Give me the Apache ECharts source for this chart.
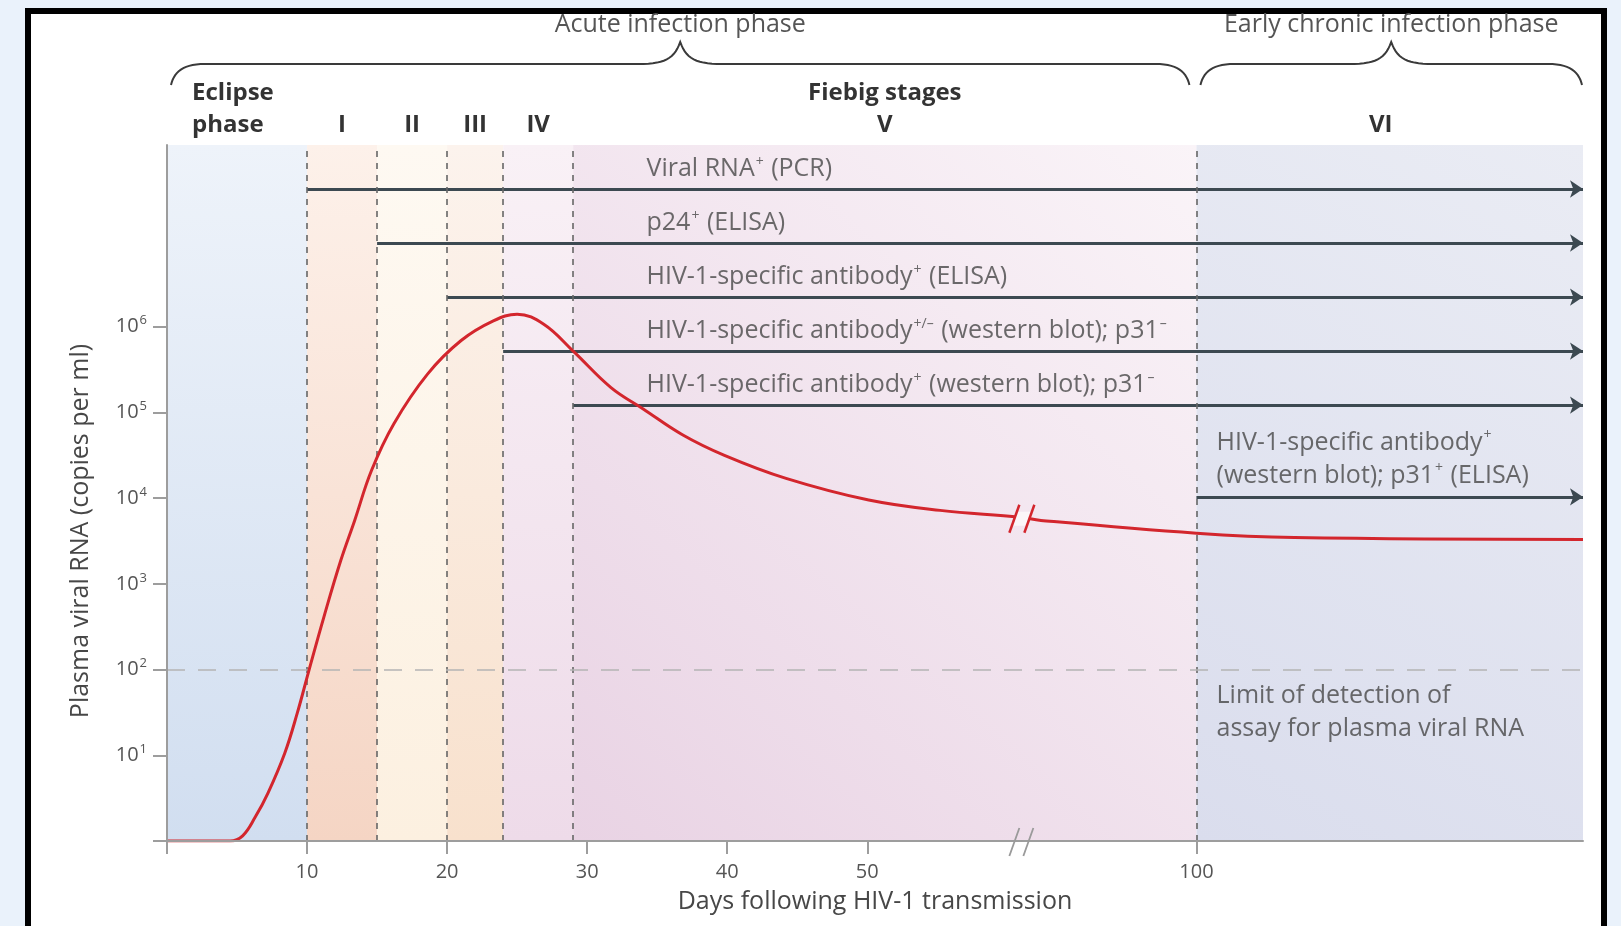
<!DOCTYPE html>
<html>
<head>
<meta charset="utf-8">
<title>HIV-1 viral load and Fiebig stages</title>
<script src="https://cdn.jsdelivr.net/npm/echarts@6/dist/echarts.min.js"></script>
<style>
  html, body { margin: 0; padding: 0; width: 1621px; height: 926px; overflow: hidden; background: #eaf2fb; }
  #frame { position: absolute; left: 25px; top: 8px; width: 1570px; height: 960px;
           border: 6px solid #000; border-bottom: none; background: #fff; }
  #chart { position: absolute; left: 0; top: 0; width: 1621px; height: 926px; }
</style>
</head>
<body>
<div id="frame"></div>
<div id="chart"></div>
<script>
// ---------- data ----------
// Plasma viral RNA over time (days after transmission, copies per ml)
const curveDays   = [0, 4.5, 5.4, 6.3, 7.2, 8.4, 9.3, 10.15, 11.2, 12.4, 13.4, 14.6, 16.2, 18.6, 21, 23.3, 25, 26.9, 29, 31.7, 34, 36.8, 39.8, 44.2, 50.1, 55.2, 60.9, 88.9, 100, 107, 127.6];
const curveCopies = [1, 1, 1.15, 1.9, 3.6, 10.5, 31, 100, 410, 1860, 5500, 21000, 74000, 280000, 690000, 1170000, 1400000, 1070000, 520000, 195000, 110000, 55000, 31600, 17000, 9500, 7200, 6000, 5500, 3900, 3470, 3300];

// Stage boundaries (days) and their names
const stageEdges = [0, 10, 15, 20, 24, 29, 100];
const stageNames = ['Eclipse\nphase', 'I', 'II', 'III', 'IV', 'Fiebig stages\nV', 'VI'];

// Assays and the day from which each one becomes positive
const assayNames = [
  'Viral RNA⁺ (PCR)',
  'p24⁺ (ELISA)',
  'HIV-1-specific antibody⁺ (ELISA)',
  'HIV-1-specific antibody⁺/⁻ (western blot); p31⁻',
  'HIV-1-specific antibody⁺ (western blot); p31⁻',
  'HIV-1-specific antibody⁺\n(western blot); p31⁺ (ELISA)'
];
const assayStartDays = [10, 15, 20, 24, 29, 100];

// Limit of detection of the plasma RNA assay (copies per ml)
const detectionLimit = 100;
const detectionText = 'Limit of detection of\nassay for plasma viral RNA';

// Axis ticks and labels
const xTickLabels = [10, 20, 30, 40, 50, 100];
const xTickMarks = [0, 10, 20, 30, 40, 50, 100];
const yTickExponents = [1, 2, 3, 4, 5, 6];
const yTickMarkExponents = [0, 1, 2, 3, 4, 5, 6];

const phaseTitles = ['Acute infection phase', 'Early chronic infection phase'];

// ---------- layout ----------
const X_MAX = 127.6;
const X_BREAK = { start: 61, end: 87.5 };
const Y_MAX = Math.pow(10, 8.12);
const ROW_MIN = 0.185, ROW_MAX = 13.07;            // hidden row axis for the assay arrows
const arrowRows = [1, 2, 3, 4, 5, 6.7];
const assayLabelDay = 34.2;
const lateLabelDay = 101.4;

const FONT = '"Open Sans", "DejaVu Sans", sans-serif';
const TEXT_COLOR = '#474747';
const AXIS_COLOR = '#9d9d9d';
const LABEL_SIZE = 25;

function supText(s) {
  return s.replace(/[⁺⁻](\/[⁺⁻])?/g, m => '{sup|' + m.replace(/⁺/g, '+').replace(/⁻/g, '–') + '}');
}
const supStyle = { fontFamily: FONT, fontSize: 14, color: TEXT_COLOR, padding: [0, 1, 14, 1] };

const lg = (stops) => new echarts.graphic.LinearGradient(stops[0], stops[1], stops[2], stops[3],
  [{ offset: 0, color: stops[4] }, { offset: 1, color: stops[5] }]);
const bandFills = [
  lg([0, 0, 0, 1, '#eef3fa', '#d1def0']),
  lg([0, 0, 0, 1, '#fdf1ea', '#f5d5c4']),
  lg([0, 0, 0, 1, '#fef9f2', '#fcf0e0']),
  lg([0, 0, 0, 1, '#fcf3ed', '#f8e1cd']),
  lg([0, 0, 0, 1, '#f9f1f6', '#eedbe9']),
  lg([0, 1, 1, 0, '#e9d3e4', '#faf4f8']),
  lg([0, 1, 1, 0, '#dadded', '#eaecf4'])
];

const bandData = stageNames.map((name, i) => {
  const from = stageEdges[i];
  const to = i + 1 < stageEdges.length ? stageEdges[i + 1] : X_MAX;
  const first = { xAxis: from, yAxis: 1, name: name, itemStyle: { color: bandFills[i] } };
  if (i === 0) first.label = { align: 'left', offset: [-45, 0] };
  if (i === 6) first.label = { offset: [-9, 0] };
  return [first, { xAxis: to, yAxis: Y_MAX }];
});

const chart = echarts.init(document.getElementById('chart'), null, { renderer: 'canvas', width: 1621, height: 926 });

const option = {
  animation: false,
  backgroundColor: 'transparent',
  textStyle: { fontFamily: FONT },
  grid: { left: 167, top: 145, right: 38, bottom: 85 },
  xAxis: {
    type: 'value', min: 0, max: X_MAX, z: 10,
    breaks: [{ start: X_BREAK.start, end: X_BREAK.end, gap: 0 }],
    breakArea: { show: false, expandOnClick: false },
    axisLine: { show: true, onZero: false, lineStyle: { color: AXIS_COLOR, width: 2 } },
    axisTick: { show: true, length: 13, customValues: xTickMarks, lineStyle: { color: AXIS_COLOR, width: 2 } },
    axisLabel: { customValues: xTickLabels, margin: 21, color: '#555', fontSize: 20, fontFamily: FONT },
    splitLine: { show: false },
    name: 'Days following HIV-1 transmission', nameLocation: 'middle', nameGap: 48,
    nameTextStyle: { fontSize: 25, color: TEXT_COLOR, fontFamily: FONT }
  },
  yAxis: [{
    type: 'log', logBase: 10, min: 1, max: Y_MAX, z: 10,
    axisLine: { show: true, onZero: false, lineStyle: { color: AXIS_COLOR, width: 2 } },
    axisTick: { show: true, length: 14, customValues: yTickMarkExponents.map(e => Math.pow(10, e)),
                lineStyle: { color: AXIS_COLOR, width: 2 } },
    axisLabel: {
      customValues: yTickExponents.map(e => Math.pow(10, e)), margin: 20, color: '#555',
      fontSize: 20, fontFamily: FONT,
      formatter: v => '10{sup|' + Math.round(Math.log10(v)) + '}',
      rich: { sup: { fontFamily: FONT, fontSize: 13, color: '#555', padding: [0, 0, 12, 1] } }
    },
    splitLine: { show: false },
    name: 'Plasma viral RNA (copies per ml)', nameLocation: 'middle', nameGap: 74, nameRotate: 90,
    nameTextStyle: { fontSize: 25, color: TEXT_COLOR, fontFamily: FONT, padding: [0, 76, 0, 0] }
  }, {
    type: 'value', min: ROW_MIN, max: ROW_MAX, inverse: true, show: false
  }],
  series: [
    {
      // stage bands, stage boundaries and detection limit
      name: 'stages', type: 'line', data: [], xAxisIndex: 0, yAxisIndex: 0, z: 1, silent: true,
      markArea: {
        silent: true,
        label: { show: true, position: 'top', distance: 4, fontSize: 24, fontWeight: 'bold',
                 color: '#333', lineHeight: 32, fontFamily: FONT },
        data: bandData
      },
      markLine: {
        silent: true, symbol: 'none',
        label: { show: false },
        lineStyle: { color: '#666', type: [6, 6], width: 1.6 },
        data: stageEdges.slice(1).map(d => ({ xAxis: d }))
          .concat([{ yAxis: detectionLimit, lineStyle: { color: '#b4b4b4', type: [18, 13], width: 1.5 } }])
      }
    },
    {
      name: 'assays', type: 'lines', coordinateSystem: 'cartesian2d', xAxisIndex: 0, yAxisIndex: 1,
      z: 4, silent: true, polyline: false,
      symbol: ['none', 'arrow'], symbolSize: [0, 13],
      lineStyle: { color: '#3c4951', width: 3, opacity: 1, curveness: 0 },
      data: assayStartDays.map((d, i) => ({ coords: [[d, arrowRows[i]], [X_MAX, arrowRows[i]]] }))
    },
    {
      name: 'assay labels', type: 'scatter', xAxisIndex: 0, yAxisIndex: 1, z: 5, silent: true,
      symbolSize: 1, itemStyle: { color: 'rgba(0,0,0,0)' },
      label: { show: true, position: 'right', distance: 0, fontSize: LABEL_SIZE, color: TEXT_COLOR, fontFamily: FONT,
               lineHeight: 33, formatter: p => supText(p.name), rich: { sup: supStyle } },
      data: assayNames.map((n, i) => ({
        name: n,
        value: [i < 5 ? assayLabelDay : lateLabelDay, arrowRows[i]],
        label: { offset: [0, i < 5 ? -20 : -38] }
      }))
    },
    {
      name: 'detection label', type: 'scatter', xAxisIndex: 0, yAxisIndex: 0, z: 5, silent: true,
      symbolSize: 1, itemStyle: { color: 'rgba(0,0,0,0)' },
      label: { show: true, position: 'right', distance: 0, fontSize: LABEL_SIZE, color: TEXT_COLOR, fontFamily: FONT,
               lineHeight: 33, offset: [0, 43], formatter: p => p.name },
      data: [{ name: detectionText, value: [lateLabelDay, detectionLimit] }]
    },
    {
      name: 'Plasma viral RNA', type: 'line', xAxisIndex: 0, yAxisIndex: 0, z: 6, silent: true,
      smooth: 0.4, showSymbol: false, symbol: 'none',
      lineStyle: { color: '#d3262d', width: 3 },
      data: curveDays.map((d, i) => [d, curveCopies[i]])
    }
  ]
};

chart.setOption(option);

// ---------- phase braces, titles and axis-break marks ----------
function cubic(p0, p1, p2, p3, n) {
  const pts = [];
  for (let i = 1; i <= n; i++) {
    const t = i / n, u = 1 - t;
    pts.push([
      u * u * u * p0[0] + 3 * u * u * t * p1[0] + 3 * u * t * t * p2[0] + t * t * t * p3[0],
      u * u * u * p0[1] + 3 * u * u * t * p1[1] + 3 * u * t * t * p2[1] + t * t * t * p3[1]
    ]);
  }
  return pts;
}
function bracePoints(x1, x2, yEnd, yLine, yTip) {
  const xm = (x1 + x2) / 2;
  let pts = [[x1, yEnd]];
  pts = pts.concat(cubic([x1, yEnd], [x1 + 3, yLine + 8], [x1 + 12, yLine], [x1 + 34, yLine], 14));
  pts.push([xm - 42, yLine]);
  pts = pts.concat(cubic([xm - 42, yLine], [xm - 16, yLine], [xm - 6, yLine - 5], [xm, yTip], 14));
  pts = pts.concat(cubic([xm, yTip], [xm + 6, yLine - 5], [xm + 16, yLine], [xm + 42, yLine], 14));
  pts.push([x2 - 34, yLine]);
  pts = pts.concat(cubic([x2 - 34, yLine], [x2 - 12, yLine], [x2 - 3, yLine + 8], [x2, yEnd], 14));
  return pts;
}

function drawOverlay() {
  const xp = d => chart.convertToPixel({ xAxisIndex: 0 }, d);
  const yp = v => chart.convertToPixel({ yAxisIndex: 0 }, v);
  const els = [];

  const spans = [[xp(0) + 4, xp(100) - 7], [xp(100) + 4, xp(X_MAX) - 1]];
  spans.forEach((s, i) => {
    els.push({ type: 'polyline', z: 100, silent: true,
      shape: { points: bracePoints(s[0], s[1], 85, 64, 42) },
      style: { stroke: '#3a3a3a', lineWidth: 2, fill: null } });
    els.push({ type: 'text', z: 100, silent: true, x: (s[0] + s[1]) / 2, y: 25,
      style: { text: phaseTitles[i], fontSize: 25, fontFamily: FONT, fill: '#555',
               align: 'center', verticalAlign: 'middle' } });
  });

  // break marks on the curve
  const bx = xp(X_BREAK.start);
  const iA = curveDays.findIndex(d => d > X_BREAK.start) - 1;
  const by = (yp(curveCopies[iA]) + yp(curveCopies[iA + 1])) / 2;
  const c1 = bx - 7, c2 = bx + 8;
  els.push({ type: 'polygon', z: 101, silent: true,
    shape: { points: [[c1 - 3, by + 7], [c2 - 3, by + 7], [c2 + 3, by - 7], [c1 + 3, by - 7]] },
    style: { fill: '#fbf6f9' } });
  [c1, c2].forEach(c => els.push({ type: 'line', z: 102, silent: true,
    shape: { x1: c - 5, y1: by + 14, x2: c + 5, y2: by - 14 },
    style: { stroke: '#d3262d', lineWidth: 2.5 } }));

  // break marks on the time axis
  const ay = yp(1);
  [bx - 7, bx + 7].forEach(c => els.push({ type: 'line', z: 102, silent: true,
    shape: { x1: c - 5, y1: ay + 15, x2: c + 5, y2: ay - 13 },
    style: { stroke: '#9a9a9a', lineWidth: 1.8 } }));

  chart.setOption({ graphic: { elements: els } });
}
drawOverlay();
</script>
</body>
</html>
